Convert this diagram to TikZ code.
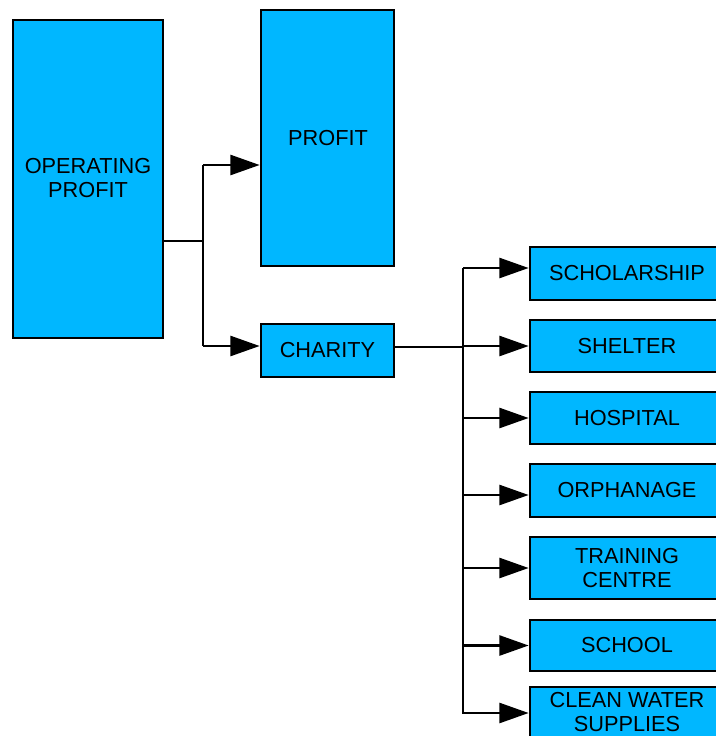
\documentclass[tikz,border=0pt]{standalone}
\usepackage{fontspec}
\setmainfont{Liberation Sans}
\usetikzlibrary{arrows.meta}
\definecolor{boxblue}{RGB}{0,183,255}
\begin{document}
\begin{tikzpicture}[x=0.75pt,y=-0.75pt,
  lbl/.style={font=\fontsize{16.3}{18.5}\selectfont,align=center},
  box/.style={draw=black,line width=2pt,fill=boxblue,inner sep=0pt,lbl},
  link/.style={line width=2pt},
  arr/.style={line width=2pt,-{Triangle[length=22pt,width=15pt]}}]
\useasboundingbox (0,0) rectangle (716,736);
\clip (0,0) rectangle (716,736);

% left column
\node[box,minimum width=150*0.75pt,minimum height=318*0.75pt] (op) at (88,179) {};
\node[lbl] (opt) at (88,178) {OPERATING\\PROFIT};
\node[box,minimum width=133*0.75pt,minimum height=256*0.75pt] (prof) at (327.5,138) {};
\node[lbl] (proft) at (328,138) {PROFIT};
\node[box,minimum width=133*0.75pt,minimum height=53*0.75pt] (char) at (327.5,350.5) {CHARITY};

% right column (runs past the right edge)
\node[box,minimum width=194*0.75pt,minimum height=53*0.75pt] (s1) at (627,273.5) {SCHOLARSHIP};
\node[box,minimum width=194*0.75pt,minimum height=52*0.75pt] (s2) at (627,346) {SHELTER};
\node[box,minimum width=194*0.75pt,minimum height=52*0.75pt] (s3) at (627,418) {HOSPITAL};
\node[box,minimum width=194*0.75pt,minimum height=53*0.75pt] (s4) at (627,490.5) {ORPHANAGE};
\node[box,minimum width=194*0.75pt,minimum height=62*0.75pt] (s5) at (627,568) {TRAINING\\CENTRE};
\node[box,minimum width=194*0.75pt,minimum height=51*0.75pt] (s6) at (627,645.5) {SCHOOL};
\node[box,minimum width=194*0.75pt,minimum height=62*0.75pt] (s7) at (627,718) {};
\node[lbl] (s7t) at (627,712) {CLEAN WATER\\SUPPLIES};

% junctions
\coordinate (j1) at (203,241);
\coordinate (j2) at (463,347);

% operating profit split
\draw[link] (op.east |- j1) -- (j1);
\draw[link] (j1 |- 0,165) -- (j1 |- 0,346);
\draw[arr] (j1 |- 0,165) -- (prof.west |- 0,165);
\draw[arr] (j1 |- 0,346) -- (char.west |- 0,346);

% charity split
\draw[link] (char.east |- j2) -- (j2);
\draw[link] (j2 |- 0,268) -- (j2 |- 0,714);
\draw[arr] (j2 |- 0,268) -- (s1.west |- 0,268);
\draw[arr] (j2 |- s2.west) -- (s2.west);
\draw[arr] (j2 |- s3.west) -- (s3.west);
\draw[arr] (j2 |- 0,495) -- (s4.west |- 0,495);
\draw[arr] (j2 |- s5.west) -- (s5.west);
\draw[arr] (j2 |- s6.west) -- (s6.west);
\draw[arr] (j2 |- 0,713) -- (s7.west |- 0,713);
\end{tikzpicture}
\end{document}
